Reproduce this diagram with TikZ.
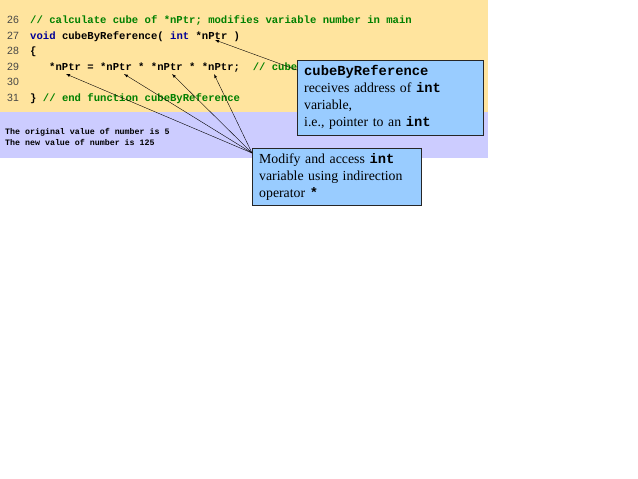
\documentclass[tikz,border=0pt]{standalone}
\usepackage{fontspec}
\setmainfont{Liberation Serif}
\setmonofont{Liberation Mono}
\newfontfamily\numfont{Liberation Sans}
\usetikzlibrary{positioning}
\definecolor{codebg}{RGB}{255,228,158}
\definecolor{outbg}{RGB}{204,204,255}
\definecolor{notebg}{RGB}{153,204,255}
\definecolor{cmtgreen}{RGB}{0,128,0}
\definecolor{kwblue}{RGB}{0,0,150}
\definecolor{numgray}{RGB}{70,70,70}
\tikzset{
  codeline/.style={anchor=base west,inner sep=0pt,font=\ttfamily\bfseries\fontsize{10.6}{12}\selectfont},
  outline/.style={anchor=base west,inner sep=0pt,font=\ttfamily\bfseries\fontsize{8.3}{10}\selectfont},
  lineno/.style={anchor=base west,inner sep=0pt,text=numgray,font=\numfont\fontsize{10.5}{12}\selectfont},
  note/.style={draw=black!85,fill=notebg,anchor=north west,align=left,inner xsep=7pt,inner ysep=4pt,
    font=\fontsize{13.8}{17}\selectfont},
  ptr/.style={-latex,black,thin}
}
\newcommand{\cm}[1]{\textcolor{cmtgreen}{#1}}
\newcommand{\kw}[1]{\textcolor{kwblue}{#1}}
\begin{document}
\begin{tikzpicture}[x=1pt,y=-1pt]
\useasboundingbox (0,0) rectangle (638,479);
\fill[codebg] (0,0) rectangle (488,112);
\fill[outbg] (0,112) rectangle (488,158);
\foreach \n/\y in {26/23.5,27/39,28/54.5,29/70,30/85.5,31/101} % edit here for the line numbers
\node[lineno] (n\n) at (7,\y) {\n};
\node[codeline] (l26) at (30,23.5) {\cm{// calculate cube of *nPtr; modifies variable number in main}};
\node[codeline] (l27) at (30,39) {\kw{void} cubeByReference( \kw{int} *nPtr )};
\node[codeline] (l28) at (30,54.5) {\{};
\node[codeline] (l29) at (49,70) {*nPtr = *nPtr * *nPtr * *nPtr;\ \ \cm{// cube}};
\node[codeline] (l31) at (30,101) {\} \cm{// end function cubeByReference}};
\node[outline] (o1) at (5,134) {The original value of number is 5};
\node[outline] (o2) at (5,145.5) {The new value of number is 125};
\node[note,text width=172pt,minimum height=75pt] (recv) at (297,60)
  {\textbf{\ttfamily cubeByReference}\\receives address of \textbf{\ttfamily int}\\variable,\\i.e., pointer to an \textbf{\ttfamily int}};
\node[note,text width=155pt,minimum height=57pt] (mod) at (252,148)
  {Modify and access \textbf{\ttfamily int}\\variable using indirection\\operator \textbf{\ttfamily *}};
\coordinate (t0) at (215,40);
\foreach \i/\x in {1/66,2/124,3/172,4/214} % edit here for the tips
\coordinate (t\i) at (\x,74);
\draw[ptr] ([yshift=-10pt]recv.north west) -- (t0);
\foreach \i in {1,...,4}
\draw[ptr] ([yshift=-5pt]mod.north west) -- (t\i);
\end{tikzpicture}
\end{document}
